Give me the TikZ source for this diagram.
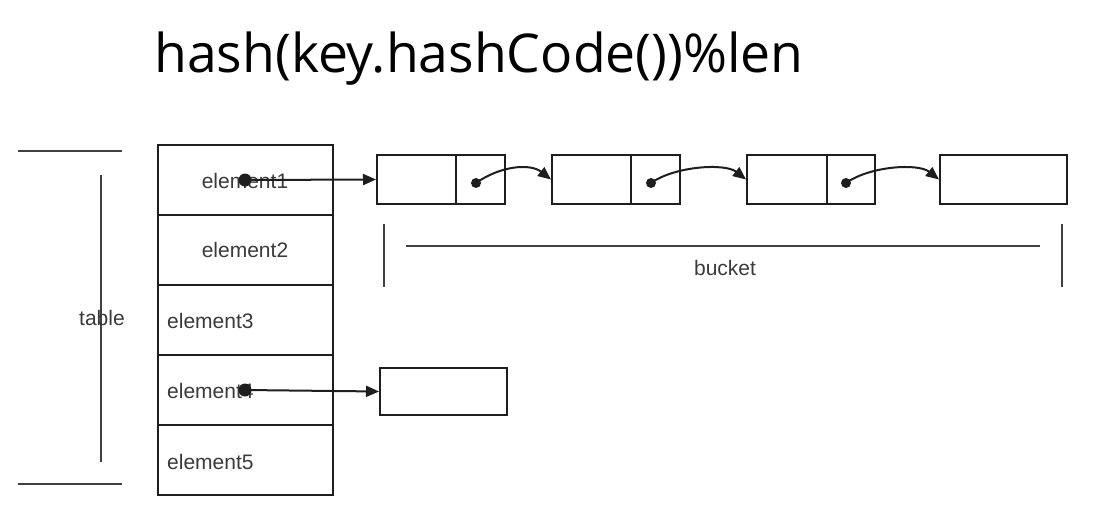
\documentclass[tikz,border=0pt]{standalone}
\usepackage{fontspec}
\setmainfont{Liberation Sans}
\newfontfamily\titlefont{Open Sans}
\usetikzlibrary{arrows.meta}
\definecolor{ink}{HTML}{1E1E1E}
\definecolor{txt}{HTML}{3A3A3A}
\tikzset{
  cell/.style={draw=ink, line width=2pt, inner sep=0pt},
  lbl/.style={text=txt, font=\fontsize{21}{24}\selectfont, inner sep=0pt},
  ptr/.style={draw=ink, line width=2pt, -{Triangle[length=13pt,width=11pt]}},
  dotp/.style={circle, fill=ink, inner sep=0pt, minimum size=#1},
  rule/.style={draw=ink!85, line width=2.2pt},
}
\begin{document}
\begin{tikzpicture}[x=1pt,y=-1pt]
\useasboundingbox (0,0) rectangle (1102,527);
% title
\node[anchor=base west, inner sep=0pt, font=\titlefont\fontsize{53.5}{58}\selectfont] (title) at (154,72) {hash(key.hashCode())\%len};
% table bracket
\draw[rule] (18,151) -- (122,151);
\draw[rule] (18,484) -- (122,484);
\draw[rule] (101,175) -- (101,462);
\node[lbl] (tablelbl) at (102,318) {table};
% table rows
\foreach \i/\y in {1/180,2/250,3/320,4/390,5/460}{
  \node[cell, minimum width=175pt, minimum height=70pt] (row\i) at (245.5,\y) {};
}
\node[lbl] (l1) at (245,181) {element1};
\node[lbl] (l2) at (245,250) {element2};
\node[lbl, anchor=west] (l3) at (167,321) {element3};
\node[lbl, anchor=west] (l4) at (167,391) {element4};
\node[lbl, anchor=west] (l5) at (167,462) {element5};
% bucket boxes
\node[cell, minimum width=79pt, minimum height=49pt] (b1a) at (416.5,179.5) {};
\node[cell, minimum width=49pt, minimum height=49pt] (b1b) at (480.5,179.5) {};
\node[cell, minimum width=79pt, minimum height=49pt] (b2a) at (591.5,179.5) {};
\node[cell, minimum width=49pt, minimum height=49pt] (b2b) at (655.5,179.5) {};
\node[cell, minimum width=80pt, minimum height=49pt] (b3a) at (787,179.5) {};
\node[cell, minimum width=48pt, minimum height=49pt] (b3b) at (851,179.5) {};
\node[cell, minimum width=127pt, minimum height=49pt] (b4) at (1003.5,179.5) {};
\node[cell, minimum width=127pt, minimum height=47pt] (e4box) at (443.5,391.5) {};
% pointer dots
\node[dotp=13pt] (d1) at (245,180) {};
\node[dotp=13pt] (d4) at (245,390) {};
\node[dotp=10pt] (p1) at (476,183) {};
\node[dotp=10pt] (p2) at (651,183) {};
\node[dotp=10pt] (p3) at (846,183) {};
% pointers
\draw[ptr] (d1.center) -- (b1a.west);
\draw[ptr] (d4.center) -- (e4box.west);
\draw[ptr] (p1.center) .. controls (500,166) and (530,163) .. (b2a.west);
\draw[ptr] (p2.center) .. controls (675,166) and (725,163) .. (b3a.west);
\draw[ptr] (p3.center) .. controls (870,166) and (918,163) .. (b4.west);
% bucket bracket
\draw[rule] (384,224) -- (384,287);
\draw[rule] (1062,224) -- (1062,287);
\draw[rule] (406,246) -- (1040,246);
\node[lbl] (bucketlbl) at (725,268) {bucket};
\end{tikzpicture}
\end{document}
